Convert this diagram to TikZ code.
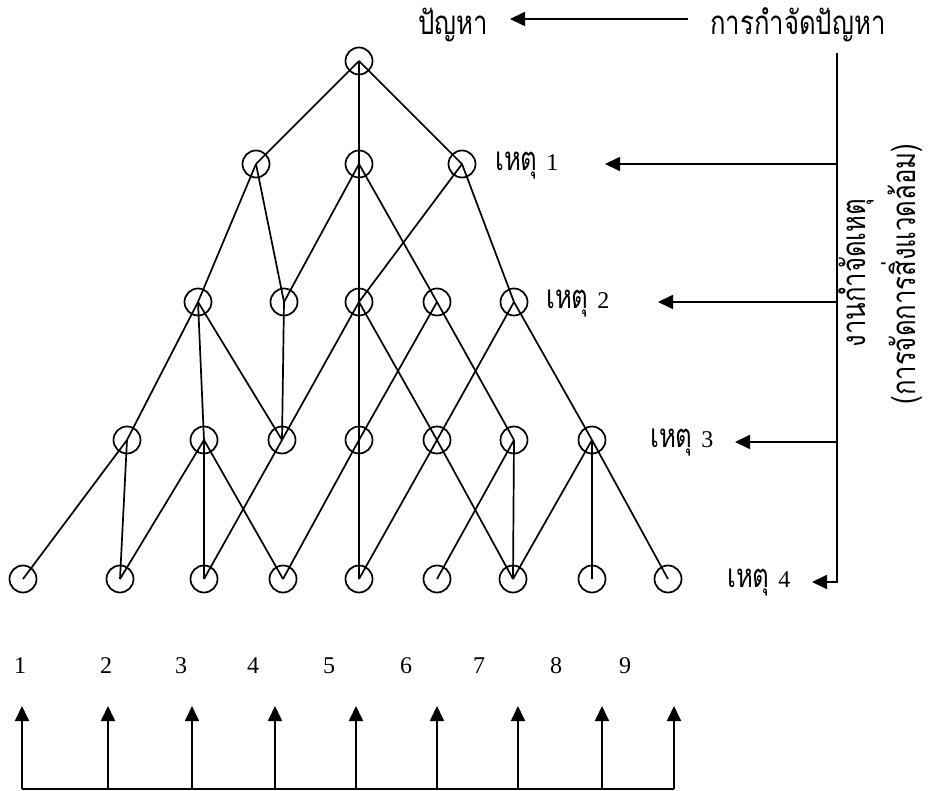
\documentclass[tikz,border=0pt]{standalone}
\usepackage{fontspec}
\setmainfont{Liberation Serif}
\newfontfamily\thai[Script=Thai,FakeStretch=0.78]{Loma}
\usetikzlibrary{arrows.meta}
\begin{document}
\begin{tikzpicture}[x=1pt,y=-1pt,
  cnode/.style={circle,draw,line width=1.7pt,minimum size=27pt,inner sep=0pt},
  edge/.style={line width=1.7pt},
  arr/.style={line width=1.7pt,-{Triangle[length=15pt,width=14pt]}},
  lbl/.style={font=\thai\fontsize{33}{36}\selectfont,inner sep=0pt},
  num/.style={font=\rmfamily\fontsize{24}{28}\selectfont,inner sep=0pt,anchor=base}]
\useasboundingbox (0,0) rectangle (930,791);
% tree nodes
\node[cnode] (r) at (359,61) {};
\foreach \x [count=\i] in {256,359,462} \node[cnode] (p\i) at (\x,164) {};
\foreach \x [count=\i] in {198,284,359,437,514} \node[cnode] (q\i) at (\x,302) {};
\foreach \x [count=\i] in {127,204,282,359,437,514,592} \node[cnode] (s\i) at (\x,440) {};
\foreach \x [count=\i] in {23,120,204,283,359,437,513,592,668} \node[cnode] (t\i) at (\x,579) {};
% edges
\foreach \a/\b in {r/p1,r/p2,r/p3,
  p1/q1,p1/q2,p2/q2,p2/q3,p2/q4,p3/q3,p3/q5,
  q1/s1,q1/s2,q1/s3,q2/s3,q3/s3,q3/s4,q3/s5,q4/s4,q4/s6,q5/s5,q5/s7,
  s1/t1,s1/t2,s2/t2,s2/t3,s2/t4,s3/t3,s4/t4,s4/t5,s5/t5,s5/t7,s6/t6,s6/t7,s7/t7,s7/t8,s7/t9}
  \draw[edge] (\a.center) -- (\b.center);
% top texts and arrow
\node[lbl,anchor=base west] (panha) at (418,35) {ปัญหา};
\node[lbl,anchor=base west] (kamjat) at (710,35) {การกำจัดปัญหา};
\coordinate (ta) at (688,19);
\coordinate (tb) at (510,19);
\draw[arr] (ta) -- (tb);
% cause labels
\node[lbl,anchor=base west] (c1) at (495,171) {เหตุ {\rmfamily\fontsize{24}{28}\selectfont 1}};
\node[lbl,anchor=base west] (c2) at (546,309) {เหตุ {\rmfamily\fontsize{24}{28}\selectfont 2}};
\node[lbl,anchor=base west] (c3) at (650,448) {เหตุ {\rmfamily\fontsize{24}{28}\selectfont 3}};
\node[lbl,anchor=base west] (c4) at (727,588) {เหตุ {\rmfamily\fontsize{24}{28}\selectfont 4}};
% right vertical bar and arrows
\coordinate (vtop) at (837,53);
\coordinate (v1) at (837,164);
\coordinate (v2) at (837,302);
\coordinate (v3) at (837,442);
\coordinate (v4) at (837,582);
\coordinate (h1) at (605,164);
\coordinate (h2) at (658,302);
\coordinate (h3) at (735,442);
\coordinate (h4) at (812,582);
\draw[arr] (vtop) -- (v4) -- (h4);
\draw[arr] (v1) -- (h1);
\draw[arr] (v2) -- (h2);
\draw[arr] (v3) -- (h3);
% rotated texts
\node[lbl,rotate=90,anchor=base] (work) at (865,273) {งานกำจัดเหตุ};
\node[lbl,rotate=90,anchor=base] (env) at (915,274) {(การจัดการสิ่งแวดล้อม)};
% bottom numbers
\foreach \x [count=\i] in {20,106,181,253,329,406,479,556,625}
  \node[num] (n\i) at (\x,673) {\i};
% bottom arrows
\foreach \x [count=\i] in {22,108,192,275,356,437,518,602,674} {
  \coordinate (bb\i) at (\x,789);
  \coordinate (bt\i) at (\x,706);
}
\draw[edge] (bb1) -- (bb9);
\foreach \i in {1,...,9} \draw[arr] (bb\i) -- (bt\i);
\end{tikzpicture}
\end{document}
